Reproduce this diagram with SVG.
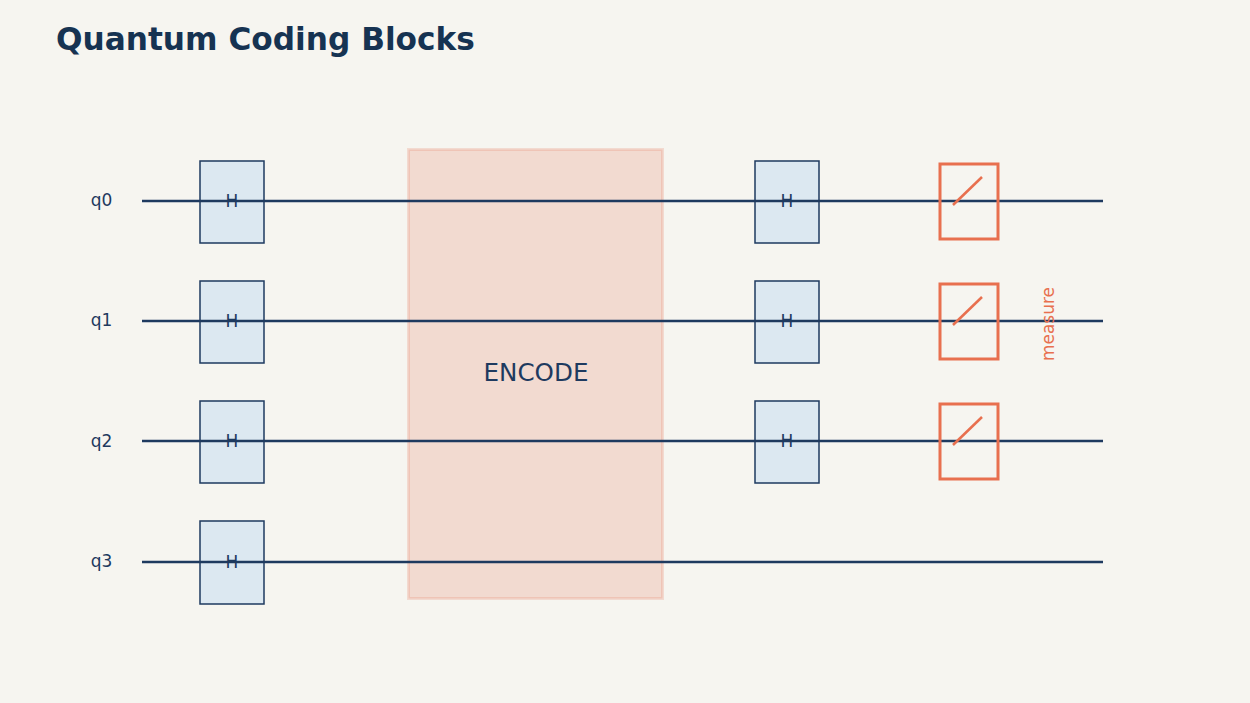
<svg xmlns="http://www.w3.org/2000/svg" width="1250" height="703" viewBox="0 0 1250 703">
<style>
.bg{fill:#f6f5f0}
.title{font-family:"DejaVu Sans",sans-serif;font-weight:bold;font-size:31.2px;fill:#163352}
.lbl{font-family:"DejaVu Sans",sans-serif;font-size:17px;fill:#1e3a5f}
.gate rect{fill:#dce8f1;stroke:#1e3a5f;stroke-width:1.5}
.gate text{font-family:"DejaVu Sans",sans-serif;font-size:17px;fill:#1e3a5f;text-anchor:middle}
.wire{stroke:#1e3a5f;stroke-width:2.5;fill:none}
.meas rect{fill:none;stroke:#e8704f;stroke-width:3}
.meas line{stroke:#e8704f;stroke-width:2.5}
</style>
<rect class="bg" x="0" y="0" width="1250" height="703"/>
<text class="title" x="56" y="50">Quantum Coding Blocks</text>

<g id="encode">
<rect x="408.5" y="149.5" width="254" height="449" fill="#e8704f" fill-opacity="0.2" stroke="#e8704f" stroke-opacity="0.2" stroke-width="3"/>
<text x="536" y="381" font-family="DejaVu Sans, sans-serif" font-size="24.6" fill="#1e3a5f" text-anchor="middle">ENCODE</text>
</g>

<g id="labels">
<text class="lbl" x="101.5" y="206" text-anchor="middle">q0</text>
<text class="lbl" x="101.5" y="326" text-anchor="middle">q1</text>
<text class="lbl" x="101.5" y="447" text-anchor="middle">q2</text>
<text class="lbl" x="101.5" y="567" text-anchor="middle">q3</text>
</g>

<g id="h-q0-a" class="gate"><rect x="200" y="161" width="64" height="82"/><text x="232" y="207">H</text></g>
<g id="h-q1-a" class="gate"><rect x="200" y="281" width="64" height="82"/><text x="232" y="327">H</text></g>
<g id="h-q2-a" class="gate"><rect x="200" y="401" width="64" height="82"/><text x="232" y="447">H</text></g>
<g id="h-q3-a" class="gate"><rect x="200" y="521" width="64" height="83"/><text x="232" y="568">H</text></g>
<g id="h-q0-b" class="gate"><rect x="755" y="161" width="64" height="82"/><text x="787" y="207">H</text></g>
<g id="h-q1-b" class="gate"><rect x="755" y="281" width="64" height="82"/><text x="787" y="327">H</text></g>
<g id="h-q2-b" class="gate"><rect x="755" y="401" width="64" height="82"/><text x="787" y="447">H</text></g>

<g id="wires">
<line class="wire" x1="142" y1="201" x2="1103" y2="201"/>
<line class="wire" x1="142" y1="321" x2="1103" y2="321"/>
<line class="wire" x1="142" y1="441" x2="1103" y2="441"/>
<line class="wire" x1="142" y1="562" x2="1103" y2="562"/>
</g>

<g id="m-q0" class="meas"><rect x="940" y="164" width="58" height="75"/><line x1="953" y1="205" x2="982" y2="177"/></g>
<g id="m-q1" class="meas"><rect x="940" y="284" width="58" height="75"/><line x1="953" y1="325" x2="982" y2="297"/></g>
<g id="m-q2" class="meas"><rect x="940" y="404" width="58" height="75"/><line x1="953" y1="445" x2="982" y2="417"/></g>

<text x="1054" y="324" transform="rotate(-90 1054 324)" font-family="DejaVu Sans, sans-serif" font-size="17" fill="#e8704f" text-anchor="middle">measure</text>
</svg>
